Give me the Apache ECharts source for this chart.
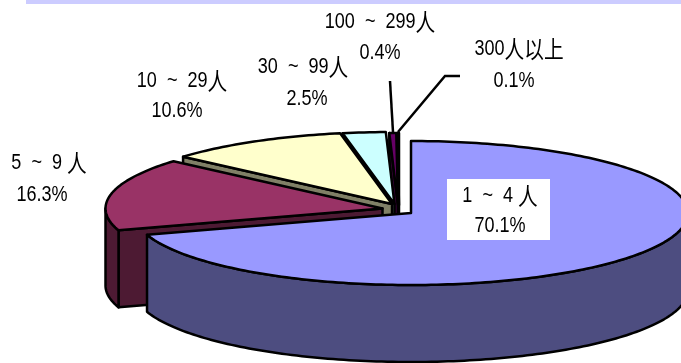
<!DOCTYPE html>
<html>
<head>
<meta charset="utf-8">
<style>
  html, body { margin: 0; padding: 0; background: #fff; }
  #chart { width: 681px; height: 363px; overflow: hidden; }
</style>
<script src="https://cdn.jsdelivr.net/npm/echarts@6/dist/echarts.min.js"></script>
</head>
<body>
<div id="chart"></div>
<script>
const categories = ['1  ~  4 ', '5  ~  9 ', '10  ~  29', '30  ~  99', '100  ~  299', '300']
const suffixes = ['人', '人', '人', '人', '人', '人以上']
const shares = [70.1, 16.3, 10.6, 2.5, 0.4, 0.1]

const topColors = ['#9999FF', '#993366', '#FFFFCC', '#CCFFFF', '#660066', '#FF8080']
const sideColors = ['#4D4D80', '#4D1A33', '#808066', '#668080', '#330033', '#804040']

// exploded slices do not share one centre
const centers = [[411, 213], [382.5, 208.5], [392, 204], [394.5, 204], [398, 205], [399, 205]]
const labelPos = [[500, 196, 226], [49, 163, 195], [182, 81, 111], [303, 67, 99], [380, 22, 53], [519, 49, 81]]
const percentX = [500, 42, 177, 307, 380, 514]

const RX = 277
const RY = 72
const DEPTH = 77
const FONT = 'Liberation Sans'
// the labels in the picture are a tall condensed face, no narrow font installed
const TEXT_SQUEEZE = 0.82

const total = shares.reduce((a, b) => a + b, 0)
const startAngles = []
shares.reduce((sum, v, i) => {
  startAngles[i] = (sum / total) * Math.PI * 2
  return sum + v
}, 0)

// angle runs clockwise from twelve o'clock
function point(c, a, drop) {
  return [c[0] + RX * Math.sin(a), c[1] - RY * Math.cos(a) + (drop || 0)]
}

function arc(c, a0, a1, drop) {
  const n = Math.max(2, Math.ceil((a1 - a0) / 0.02))
  const pts = []
  for (let i = 0; i <= n; i++) pts.push(point(c, a0 + ((a1 - a0) * i) / n, drop))
  return pts
}

function poly(points, fill) {
  return {
    type: 'polygon',
    shape: { points },
    style: { fill, stroke: '#000', lineWidth: 2.5, lineJoin: 'round' }
  }
}

function renderSlice(params, api) {
  const i = api.value(0)
  const c = centers[i]
  const a0 = startAngles[i]
  const a1 = a0 + (api.value(1) / total) * Math.PI * 2
  const children = []

  // cut face turned towards the viewer
  if (a0 > Math.PI) {
    const edge = point(c, a0)
    children.push(poly([c, edge, [edge[0], edge[1] + DEPTH], [c[0], c[1] + DEPTH]], sideColors[i]))
  }
  // outer rim, front half only
  const r0 = Math.max(a0, Math.PI / 2)
  const r1 = Math.min(a1, (Math.PI * 3) / 2)
  if (r1 > r0) {
    children.push(poly(arc(c, r0, r1, 0).concat(arc(c, r0, r1, DEPTH).reverse()), sideColors[i]))
  }
  children.push(poly([c].concat(arc(c, a0, a1, 0)), topColors[i]))
  return { type: 'group', children }
}

function labelText(i, x, y1, y2) {
  return [
    {
      type: 'text',
      z: 20,
      x,
      y: y1,
      scaleX: TEXT_SQUEEZE,
      style: {
        text: `{n|${categories[i]}}{c|${suffixes[i]}}`,
        align: 'center',
        verticalAlign: 'middle',
        rich: {
          n: { fontFamily: FONT, fontSize: 22, fill: '#000' },
          c: { fontFamily: 'Noto Sans CJK SC', fontSize: 24, fill: '#000' }
        }
      }
    },
    {
      type: 'text',
      z: 20,
      x: percentX[i],
      y: y2,
      scaleX: TEXT_SQUEEZE,
      style: {
        text: shares[i].toFixed(1) + '%',
        fontFamily: FONT,
        fontSize: 22,
        fill: '#000',
        align: 'center',
        verticalAlign: 'middle'
      }
    }
  ]
}

const labels = []
labelPos.forEach((p, i) => labels.push(...labelText(i, p[0], p[1], p[2])))

const chart = echarts.init(document.getElementById('chart'), null, { renderer: 'canvas' })
chart.setOption({
  animation: false,
  backgroundColor: '#fff',
  graphic: [
    { type: 'rect', z: 5, shape: { x: 26, y: 0, width: 655, height: 4 }, style: { fill: '#CCCCFF' } },
    { type: 'rect', z: 10, shape: { x: 447, y: 179, width: 103, height: 61 }, style: { fill: '#fff' } },
    {
      type: 'polyline',
      z: 10,
      shape: { points: [[390, 81], [393, 132]] },
      style: { stroke: '#000', lineWidth: 2.5, fill: null }
    },
    {
      type: 'polyline',
      z: 10,
      shape: { points: [[460, 76], [445, 76], [398, 132]] },
      style: { stroke: '#000', lineWidth: 2.5, fill: null }
    },
    ...labels
  ],
  series: [
    {
      type: 'custom',
      coordinateSystem: 'none',
      renderItem: renderSlice,
      silent: true,
      // painted from the back slice to the front one
      data: shares.map((v, i) => [i, v]).reverse()
    }
  ]
})
</script>
</body>
</html>
